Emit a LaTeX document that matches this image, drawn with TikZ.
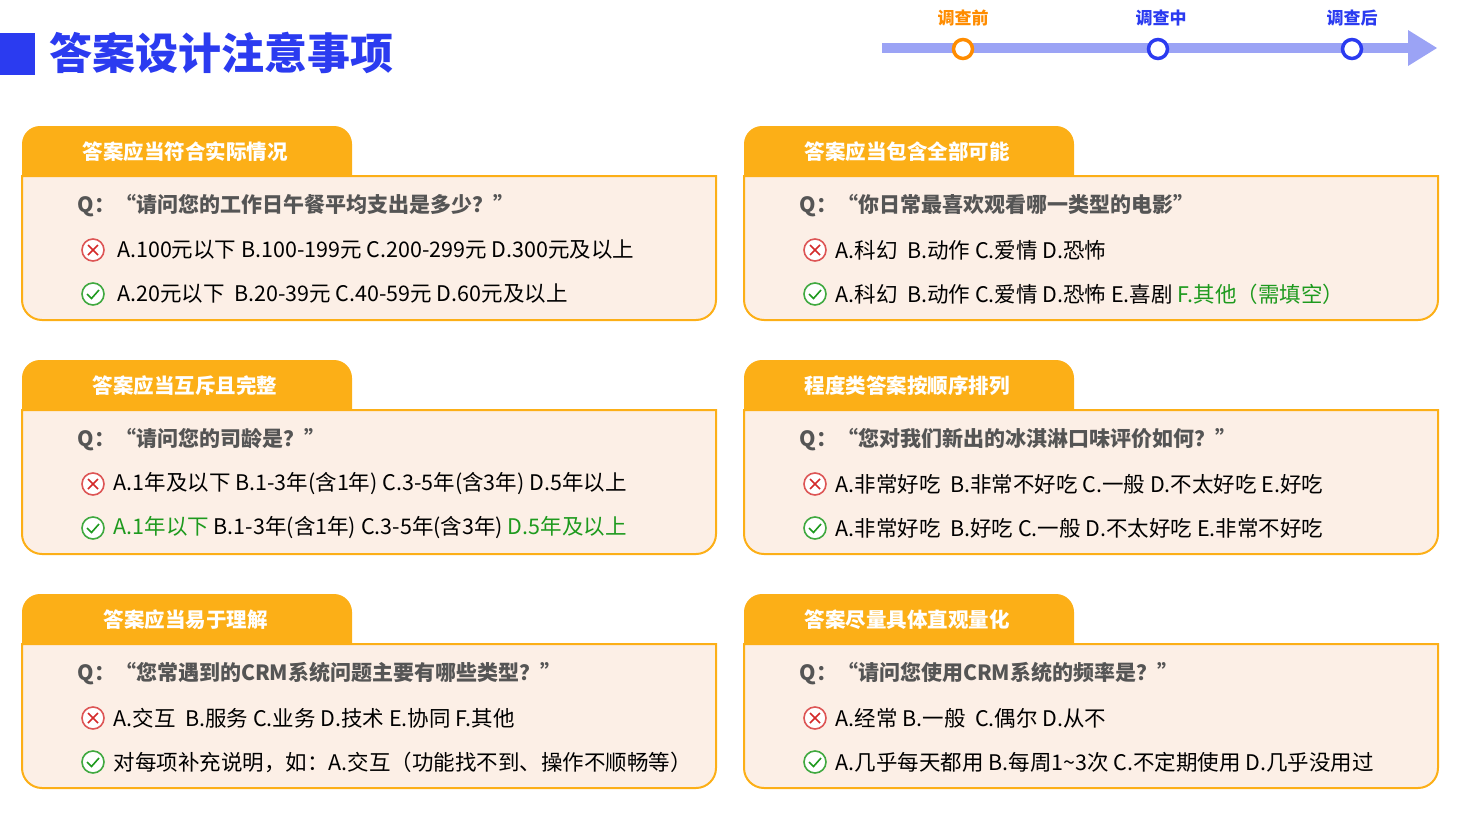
\documentclass[tikz,border=0pt]{standalone}
\usepackage{fontspec}
\setmainfont{Noto Sans CJK SC}
\definecolor{org}{HTML}{FCAF17}
\definecolor{bodyf}{HTML}{FCEFE6}
\definecolor{ttl}{HTML}{2B3BF0}
\definecolor{tl}{HTML}{9BA3F5}
\definecolor{gr}{HTML}{1E9A1E}
\definecolor{rd}{HTML}{D42A2A}
\definecolor{qg}{HTML}{555555}
\tikzset{
 hdr/.style={font=\fontsize{20.5}{20}\selectfont\bfseries, text=white, anchor=west},
 qtxt/.style={font=\fontsize{21}{20}\selectfont\bfseries, text=qg, anchor=west},
 atxt/.style={font=\fontsize{21.5}{20}\selectfont, text=black, anchor=west},
 tlab/.style={font=\fontsize{17}{17}\selectfont\bfseries},
}
\newcommand\wrongicon[1]{\node[circle,draw=rd!80,line width=1.6pt,minimum size=22pt,inner sep=0pt,fill=white] at (#1) {};
 \draw[rd,line width=1.5pt] ($(#1)+(-5,-5)$) -- ($(#1)+(5,5)$) ($(#1)+(-5,5)$) -- ($(#1)+(5,-5)$);}
\newcommand\righticon[1]{\node[circle,draw=gr!85,line width=1.6pt,minimum size=22pt,inner sep=0pt,fill=white] at (#1) {};
 \draw[gr,line width=1.6pt] ($(#1)+(-6,0)$) -- ($(#1)+(-1.5,4.5)$) -- ($(#1)+(6,-4)$);}
\newcommand\qpanel[8]{%
 \begin{scope}[shift={(#1,#2)}]
 \fill[org,rounded corners=18pt] (0,50) -- (0,0) -- (330,0) [sharp corners] -- (330,50) -- cycle;
 \draw[org,line width=2pt,fill=bodyf] (0,50) -- (694,50) -- (694,174) arc[start angle=0,end angle=90,radius=20] -- (20,194) arc[start angle=90,end angle=180,radius=20] -- cycle;
 \node[hdr] (h#8) at (#7,26) {#3};
 \node[qtxt] (q#8) at (52,80) {#4};
 \coordinate (wi#8) at (71,124); \coordinate (ri#8) at (71,168);
 \wrongicon{wi#8} \righticon{ri#8}
 \node[atxt] (w#8) at (88,124) {#5};
 \node[atxt] (r#8) at (88,168) {#6};
 \end{scope}}
\usetikzlibrary{calc}
\begin{document}
\begin{tikzpicture}[x=1pt,y=-1pt]
\useasboundingbox (0,0) rectangle (1459,817);
\fill[ttl] (0,33) rectangle (35,75);
\node[anchor=west,text=ttl,font=\fontsize{43}{43}\selectfont\bfseries] (title) at (46,53) {答案设计注意事项};
% timeline
\fill[tl] (882,43) rectangle (1410,53);
\fill[tl] (1408,30) -- (1437,48) -- (1408,66) -- cycle;
\node[circle,draw=orange!90!yellow,line width=3.5pt,fill=white,minimum size=19pt,inner sep=0pt] (t1) at (963,49) {};
\node[circle,draw=ttl,line width=3.5pt,fill=white,minimum size=19pt,inner sep=0pt] (t2) at (1158,49) {};
\node[circle,draw=ttl,line width=3.5pt,fill=white,minimum size=19pt,inner sep=0pt] (t3) at (1352,49) {};
\node[tlab,text=orange!90!yellow] (l1) at (963,18) {调查前};
\node[tlab,text=ttl] (l2) at (1161,18) {调查中};
\node[tlab,text=ttl] (l3) at (1352,18) {调查后};
\qpanel{22}{126}{答案应当符合实际情况}{Q：“请问您的工作日午餐平均支出是多少？”}{\,A.100元以下 B.100-199元 C.200-299元 D.300元及以上}{\,A.20元以下\ \ B.20-39元 C.40-59元 D.60元及以上}{57}{a}
\qpanel{744}{126}{答案应当包含全部可能}{Q：“你日常最喜欢观看哪一类型的电影”}{A.科幻\ \ B.动作 C.爱情 D.恐怖}{A.科幻\ \ B.动作 C.爱情 D.恐怖 E.喜剧 \textcolor{gr}{F.其他（需填空）}}{57}{b}
\qpanel{22}{360}{答案应当互斥且完整}{Q：“请问您的司龄是？”}{A.1年及以下 B.1-3年(含1年) C.3-5年(含3年) D.5年以上}{\textcolor{gr}{A.1年以下} B.1-3年(含1年) C.3-5年(含3年) \textcolor{gr}{D.5年及以上}}{67}{c}
\qpanel{744}{360}{程度类答案按顺序排列}{Q：“您对我们新出的冰淇淋口味评价如何？”}{A.非常好吃\ \ B.非常不好吃 C.一般 D.不太好吃 E.好吃}{A.非常好吃\ \ B.好吃 C.一般 D.不太好吃 E.非常不好吃}{57}{d}
\qpanel{22}{594}{答案应当易于理解}{Q：“您常遇到的CRM系统问题主要有哪些类型？”}{A.交互\ \ B.服务 C.业务 D.技术 E.协同 F.其他}{对每项补充说明，如：A.交互（功能找不到、操作不顺畅等）}{78}{e}
\qpanel{744}{594}{答案尽量具体直观量化}{Q：“请问您使用CRM系统的频率是？”}{A.经常 B.一般\ \ C.偶尔 D.从不}{A.几乎每天都用 B.每周1\textasciitilde3次 C.不定期使用 D.几乎没用过}{57}{f}
\end{tikzpicture}
\end{document}
